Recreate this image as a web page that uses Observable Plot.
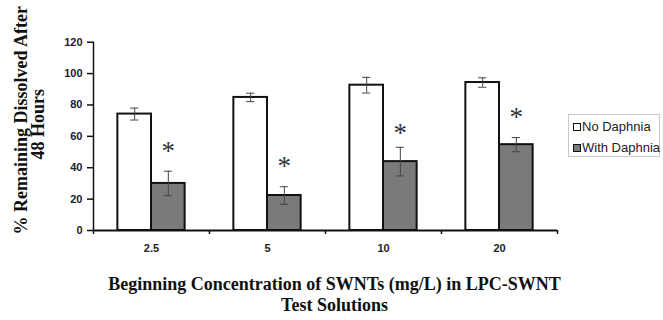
<!DOCTYPE html>
<html>
<head>
<meta charset="utf-8">
<script src="https://cdn.jsdelivr.net/npm/d3@7"></script>
<script src="https://cdn.jsdelivr.net/npm/@observablehq/plot@0.6"></script>
<style>
  html, body { margin: 0; padding: 0; background: #fff; }
  #wrap { position: relative; width: 663px; height: 320px; overflow: hidden; background: #fff; }
  #wrap svg { position: absolute; left: 0; top: 0; }
  #legend { position: absolute; left: 568px; top: 114px; width: 92px; height: 43px;
            border: 1px solid #c8c8c8; box-sizing: border-box; background: #fff; overflow: visible;
            font-family: "Liberation Sans", Arial, sans-serif; font-size: 13px; color: #222; }
  .item { position: absolute; left: 4px; height: 16px; line-height: 16px; white-space: nowrap; }
  .sw { position: absolute; left: 0; top: 4px; width: 8px; height: 8px; border: 1.5px solid #111; box-sizing: border-box; }
  .lab { position: absolute; left: 9px; top: 0; }
</style>
</head>
<body>
<div id="wrap"></div>
<script>
// ---- data ----
const concentrations = ["2.5", "5", "10", "20"];          // mg/L
const series = ["No Daphnia", "With Daphnia"];
const noDaphnia = [74.2, 84.8, 92.6, 94.3];
const noDaphniaErr = [3.8, 2.7, 5.0, 3.0];
const withDaphnia = [30.0, 22.3, 43.9, 54.7];
const withDaphniaErr = [7.8, 5.6, 9.1, 4.5];
const asteriskLevel = [53.8, 43.9, 64.8, 75.5];          // where the "*" marks sit
const yTicks = [0, 20, 40, 60, 80, 100, 120];
const yTitle = ["% Remaining Dissolved After", "48 Hours"];
const xTitle = "Beginning Concentration of SWNTs (mg/L) in LPC-SWNT\nTest Solutions";

// ---- layout / style ----
const fills = {"No Daphnia": "#ffffff", "With Daphnia": "#7a7a7a"};
const groupStart = 0.21, barW = 0.29, capHalf = 0.035;

const rows = [];
concentrations.forEach((c, i) => {
  rows.push({i, c, s: 0, series: series[0], value: noDaphnia[i], err: noDaphniaErr[i]});
  rows.push({i, c, s: 1, series: series[1], value: withDaphnia[i], err: withDaphniaErr[i]});
});
const left = d => d.i + groupStart + d.s * barW;
const mid = d => left(d) + barW / 2;

const serif = "'Liberation Serif', 'Times New Roman', serif";

const chart = Plot.plot({
  width: 663,
  height: 320,
  marginLeft: 93,
  marginRight: 106,
  marginTop: 41.7,
  marginBottom: 90,
  style: {fontFamily: "'Liberation Sans', Arial, sans-serif", fontSize: "11px", color: "#222", background: "transparent"},
  x: {domain: [0, concentrations.length], axis: null},
  y: {domain: [0, 120], axis: null},
  marks: [
    Plot.rectY(rows, {x1: left, x2: d => left(d) + barW, y1: 0, y2: "value",
      fill: d => fills[d.series], stroke: "#111", strokeWidth: 2}),
    Plot.ruleX(rows, {x: mid, y1: d => d.value - d.err, y2: d => d.value + d.err, stroke: "#444", strokeWidth: 1}),
    Plot.ruleY(rows, {y: d => d.value + d.err, x1: d => mid(d) - capHalf, x2: d => mid(d) + capHalf, stroke: "#444", strokeWidth: 1}),
    Plot.ruleY(rows, {y: d => d.value - d.err, x1: d => mid(d) - capHalf, x2: d => mid(d) + capHalf, stroke: "#444", strokeWidth: 1}),
    Plot.text(concentrations, {x: (d, i) => i + groupStart + 1.5 * barW, y: (d, i) => asteriskLevel[i],
      text: () => "*", fontFamily: serif, fontSize: 27, fill: "#333", dy: 5}),
    // axes
    Plot.ruleX([0], {y1: 0, y2: 120, stroke: "#111", strokeWidth: 1.5}),
    Plot.ruleY([0], {x1: 0, x2: concentrations.length, stroke: "#111", strokeWidth: 2}),
    Plot.axisY({ticks: yTicks, label: null, tickSize: 6, tickPadding: 5, fontWeight: "bold", fontSize: 11, strokeWidth: 1.5, stroke: "#111"}),
    Plot.axisX({ticks: d3.range(concentrations.length + 1), label: null, tickSize: 4, tickFormat: () => "", strokeWidth: 1.5, stroke: "#111"}),
    Plot.axisX({ticks: concentrations.map((_, i) => i + 0.5), label: null, tickFormat: v => concentrations[Math.round(v - 0.5)],
      tickSize: 0, tickPadding: 14, fontWeight: "bold", fontSize: 11}),
    // axis titles
    Plot.text([xTitle], {
      frameAnchor: "bottom", lineAnchor: "top", textAnchor: "middle", dx: 9, dy: 45,
      fontFamily: serif, fontWeight: "bold", fontSize: 18, lineHeight: 1.167, fill: "#111"}),
    Plot.text([yTitle[0]], {
      frameAnchor: "left", lineAnchor: "top", textAnchor: "middle", rotate: -90, dx: -79, dy: -16,
      fontFamily: serif, fontWeight: "bold", fontSize: 18, fill: "#111"}),
    Plot.text([yTitle[1]], {
      frameAnchor: "left", lineAnchor: "top", textAnchor: "middle", rotate: -90, dx: -62.5, dy: -12,
      fontFamily: serif, fontWeight: "bold", fontSize: 18, fill: "#111"})
  ]
});

const wrap = document.getElementById("wrap");
wrap.appendChild(chart);

// legend built from the series
const legend = d3.select(wrap).append("div").attr("id", "legend");
series.forEach((s, k) => {
  const it = legend.append("div").attr("class", "item").style("top", (4 + k * 21) + "px");
  it.append("div").attr("class", "sw").style("background", fills[s]);
  it.append("div").attr("class", "lab").text(s);
});
</script>
</body>
</html>
